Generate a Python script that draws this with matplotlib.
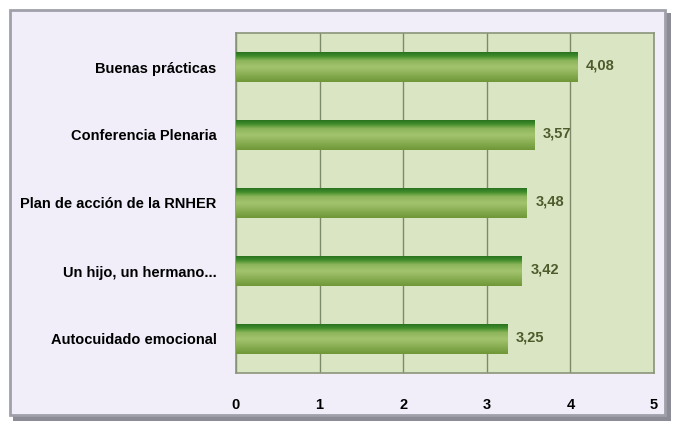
import numpy as np
import matplotlib.pyplot as plt
from matplotlib.colors import LinearSegmentedColormap
from matplotlib.patches import FancyBboxPatch

categories = ['Autocuidado emocional', 'Un hijo, un hermano...', 'Plan de acción de la RNHER',
              'Conferencia Plenaria', 'Buenas prácticas']
values = [3.25, 3.42, 3.48, 3.57, 4.08]
value_labels = ['3,25', '3,42', '3,48', '3,57', '4,08']
xticks = [0, 1, 2, 3, 4, 5]

plt.rcParams['font.family'] = ['Liberation Sans', 'DejaVu Sans']

fig = plt.figure(figsize=(6.75, 4.26), dpi=100)

# marco del gráfico con sombra
shadow = FancyBboxPatch((13 / 675, 5 / 426), 658 / 675, 408 / 426,
                        boxstyle='square,pad=0', transform=fig.transFigure,
                        facecolor='#8c8c96', edgecolor='none', zorder=0)
frame = FancyBboxPatch((10 / 675, 11 / 426), 655 / 675, 405 / 426,
                       boxstyle='square,pad=0', transform=fig.transFigure,
                       facecolor='#f1eef9', edgecolor='#a0a0aa', linewidth=2, zorder=1)
fig.patches.extend([shadow, frame])

ax = fig.add_axes([236 / 675, 1 - 373 / 426, 418 / 675, 340 / 426])
ax.set_zorder(2)
ax.set_facecolor('#dae5c3')

y = np.arange(len(categories))
bars = ax.barh(y, values, height=0.44, color='none', edgecolor='none', zorder=3)

# degradado verde de las barras
cmap = LinearSegmentedColormap.from_list('g', [(0, '#6f9838'), (0.5, '#a3c46e'),
                                               (0.72, '#8db55a'), (0.88, '#3f8a2a'),
                                               (1, '#2a7420')])
grad = np.linspace(0, 1, 64).reshape(-1, 1)
for b in bars:
    x0, y0, w, h = b.get_x(), b.get_y(), b.get_width(), b.get_height()
    im = ax.imshow(grad, cmap=cmap, aspect='auto', origin='lower',
                   extent=[x0, x0 + w, y0, y0 + h], zorder=3)
    im.set_clip_path(b)

for yi, v, lab in zip(y, values, value_labels):
    ax.text(v + 0.1, yi + 0.02, lab, va='center', ha='left', fontsize=10.5,
            fontweight='bold', color='#4e5b2c', zorder=4)

ax.set_xlim(0, 5)
ax.set_ylim(-0.5, len(categories) - 0.5)
ax.set_xticks(xticks)
ax.set_xticklabels([str(t) for t in xticks], fontsize=10.5, fontweight='bold')
ax.set_yticks(y)
ax.set_yticklabels(categories, fontsize=10.5, fontweight='bold')
ax.tick_params(axis='both', length=0)
ax.tick_params(axis='x', pad=18)
ax.tick_params(axis='y', pad=14)
ax.grid(axis='x', color='#7d8a6a', linewidth=1)
ax.set_axisbelow(True)
for s in ax.spines.values():
    s.set_color('#8a957a')
    s.set_linewidth(1.2)

plt.savefig('out.png', dpi=100)
